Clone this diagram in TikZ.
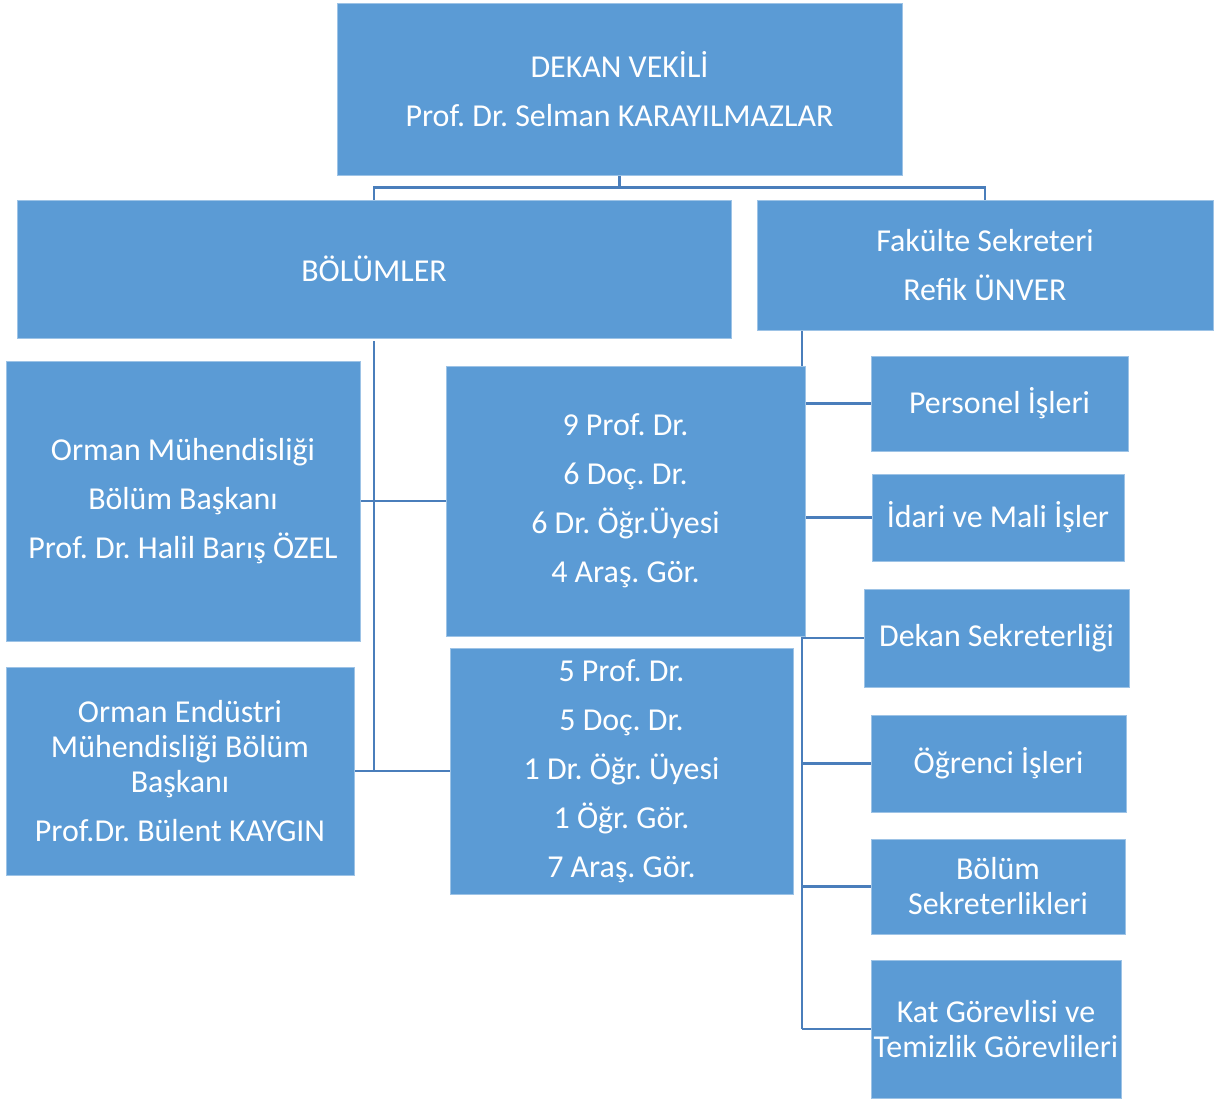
\documentclass[tikz,border=0pt]{standalone}
\usepackage{fontspec}
\setmainfont{Carlito}
\usepackage{tikz}
\usetikzlibrary{positioning,backgrounds}
\definecolor{boxblue}{HTML}{5B9BD5}
\definecolor{boxedge}{HTML}{9DC3E6}
\definecolor{linkblue}{HTML}{4A7EBB}
\newcommand{\pu}{0.025cm}
\frenchspacing
\tikzset{
    unit/.style={
    rectangle,draw=boxedge,line width=0.5pt,fill=boxblue,text=white,
    align=center,inner sep=0pt,
    font=\fontsize{22.7}{24.9}\selectfont
    },
    link/.style={
    draw=linkblue,line width=2.1pt
    },
}
\begin{document}
\begin{tikzpicture}[x=\pu, y=-\pu]
   \useasboundingbox (0,0) rectangle (1216,1099);
   \node[unit,minimum width=565*\pu,minimum height=172*\pu] (dekan) at (619.5,89) {DEKAN VEKİLİ\\[10pt]Prof. Dr. Selman KARAYILMAZLAR};
   \node[unit,minimum width=714*\pu,minimum height=138*\pu] (bolumler) at (374,269) {BÖLÜMLER};
   \node[unit,minimum width=456*\pu,minimum height=130*\pu] (fakulte) at (985,265) {Fakülte Sekreteri\\[10pt]Refik ÜNVER};
   \node[unit,minimum width=354*\pu,minimum height=280*\pu] (ormanmuh) at (183,501) {Orman Mühendisliği\\[10pt]Bölüm Başkanı\\[10pt]Prof. Dr. Halil Barış ÖZEL};
   \node[unit,minimum width=348*\pu,minimum height=208*\pu] (ormanend) at (180,771) {Orman Endüstri\\Mühendisliği Bölüm\\Başkanı\\[10pt]Prof.Dr. Bülent KAYGIN};
   \node[unit,minimum width=359*\pu,minimum height=270*\pu] (kadro1) at (625.5,501) {9 Prof. Dr.\\[10pt]6 Doç. Dr.\\[10pt]6 Dr. Öğr.Üyesi\\[10pt]4 Araş. Gör.};
   \node[unit,minimum width=343*\pu,minimum height=246*\pu] (kadro2) at (621.5,771) {5 Prof. Dr.\\[10pt]5 Doç. Dr.\\[10pt]1 Dr. Öğr. Üyesi\\[10pt]1 Öğr. Gör.\\[10pt]7 Araş. Gör.};
   \node[unit,minimum width=257*\pu,minimum height=95*\pu] (personel) at (999.5,403.5) {Personel İşleri};
   \node[unit,minimum width=252*\pu,minimum height=87*\pu] (idari) at (998,517.5) {İdari ve Mali İşler};
   \node[unit,minimum width=265*\pu,minimum height=98*\pu] (dekansek) at (996.5,638) {Dekan Sekreterliği};
   \node[unit,minimum width=255*\pu,minimum height=97*\pu] (ogrenci) at (998.5,763.5) {Öğrenci İşleri};
   \node[unit,minimum width=254*\pu,minimum height=95*\pu] (bolumsek) at (998,886.5) {Bölüm\\Sekreterlikleri};
   \node[unit,minimum width=250*\pu,minimum height=138*\pu] (kat) at (996,1029) {Kat Görevlisi ve\\Temizlik Görevlileri};
   \coordinate (rtop) at (802,330);

   \begin{pgfonlayer}{background}
   % top level
   \draw[link] (dekan.south) -- ++(0,12) -| (bolumler.north);
   \draw[link] (dekan.south) -- ++(0,12) -| (fakulte.north);
   % departments
   \draw[link] ([yshift=-3*\pu]bolumler.south) -- (bolumler.south |- kadro2.west);
   \draw[link] (ormanmuh.east) -- (kadro1.west);
   \draw[link] (ormanend.east) -- (kadro2.west);
   % secretariat
   \draw[link] (rtop) -- (rtop |- kat.west);
   \draw[link] (rtop |- personel.west) -- (personel.west);
   \draw[link] (rtop |- idari.west) -- (idari.west);
   \draw[link] (rtop |- dekansek.west) -- (dekansek.west);
   \draw[link] (rtop |- ogrenci.west) -- (ogrenci.west);
   \draw[link] (rtop |- bolumsek.west) -- (bolumsek.west);
   \draw[link] (rtop |- kat.west) -- (kat.west);
   \end{pgfonlayer}
\end{tikzpicture}
\end{document}
